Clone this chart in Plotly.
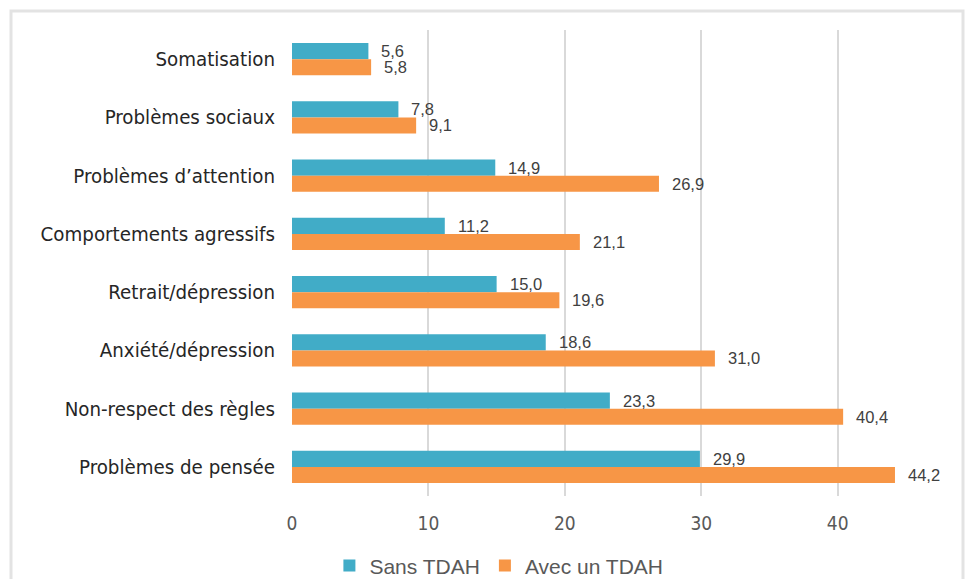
import plotly.graph_objects as go

categories = [
    "Somatisation",
    "Problèmes sociaux",
    "Problèmes d’attention",
    "Comportements agressifs",
    "Retrait/dépression",
    "Anxiété/dépression",
    "Non-respect des règles",
    "Problèmes de pensée",
]
sans_tdah = [5.6, 7.8, 14.9, 11.2, 15.0, 18.6, 23.3, 29.9]
avec_tdah = [5.8, 9.1, 26.9, 21.1, 19.6, 31.0, 40.4, 44.2]
x_ticks = [0, 10, 20, 30, 40]

TEAL = "#41ACC7"
ORANGE = "#F79646"
COND = "DejaVu Sans Condensed, Liberation Sans Narrow, Roboto, sans-serif"
SANS = "Liberation Sans, Arial, Helvetica, sans-serif"


def fmt(v):
    return f"{v:.1f}".replace(".", ",")


fig = go.Figure()
fig.add_trace(go.Bar(
    y=categories, x=sans_tdah, orientation="h", name="Sans TDAH",
    marker=dict(color=TEAL, line=dict(width=0)),
))
fig.add_trace(go.Bar(
    y=categories, x=avec_tdah, orientation="h", name="Avec un TDAH",
    marker=dict(color=ORANGE, line=dict(width=0)),
))

# value labels just past the end of each bar
annotations = []
for series, shift in ((sans_tdah, 8), (avec_tdah, -8)):
    for cat, v in zip(categories, series):
        annotations.append(dict(
            x=v, y=cat, text=fmt(v), showarrow=False,
            xanchor="left", xshift=11, yshift=shift,
            font=dict(family=SANS, size=16.5, color="#404040"),
        ))

fig.update_layout(
    width=965, height=579,
    margin=dict(l=292, r=25, t=30, b=83, autoexpand=False),
    paper_bgcolor="white", plot_bgcolor="white",
    barmode="group", bargap=0.45, bargroupgap=0,
    showlegend=True,
    legend=dict(
        orientation="h", xref="container", yref="container",
        x=0.517, y=0.058, xanchor="center", yanchor="top",
        bgcolor="rgba(0,0,0,0)",
        font=dict(family=SANS, size=21, color="#595959"),
        itemwidth=30, traceorder="normal",
    ),
    xaxis=dict(
        range=[0, 47.5], tickvals=x_ticks, showgrid=True,
        gridcolor="#d9d9d9", gridwidth=2, zeroline=False,
        showline=False, ticks="", ticklabelstandoff=14,
        tickfont=dict(family=COND, size=19, color="#595959"),
    ),
    yaxis=dict(
        autorange="reversed", showgrid=False, zeroline=False,
        showline=False, ticks="", ticklabelstandoff=16,
        tickfont=dict(family=COND, size=20.3, color="#262626"),
    ),
    annotations=annotations,
    shapes=[dict(
        type="rect", xref="paper", yref="paper", layer="below",
        x0=(11 - 292) / 648, x1=(963 - 292) / 648,
        y0=-(100 / 466), y1=1 + 19 / 466,
        line=dict(color="#e3e3e3", width=3),
    )],
)

fig.write_html("out.html")
